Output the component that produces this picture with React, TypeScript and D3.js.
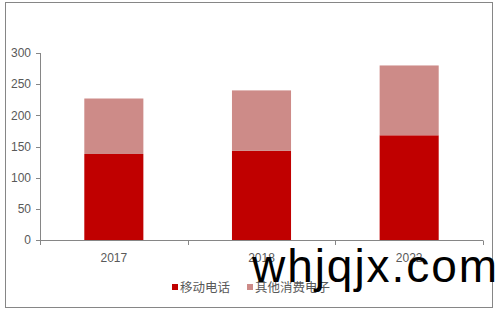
import React from "react";
import * as d3 from "d3";

const categories = ["2017", "2018", "2022"];
const mobilePhones = [138, 143, 168];
const otherElectronics = [89, 97, 112];
const yTicks = [0, 50, 100, 150, 200, 250, 300];
const seriesNames = ["移动电话", "其他消费电子"];
const seriesColors = ["#C00000", "#CD8B88"];

const W = 500;
const H = 313;

export default function App() {
  const x = d3
    .scaleBand<string>()
    .domain(categories)
    .range([40, 483])
    .paddingInner(0.6)
    .paddingOuter(0.3);
  const step = x.step();
  const y = d3.scaleLinear().domain([0, 300]).range([240, 53]);

  const rows = categories.map((c, i) => ({
    cat: c,
    mobile: mobilePhones[i],
    other: otherElectronics[i],
  }));
  const stacked = d3.stack<any>().keys(["mobile", "other"])(rows);

  const axisColor = "#868686";
  const textColor = "#595959";
  const axisFont = "Arial, 'Liberation Sans', sans-serif";

  return (
    <svg
      width={W}
      height={H}
      style={{ position: "absolute", left: 0, top: 0, background: "#fff" }}
    >
      <rect x={5.5} y={2.5} width={487} height={305} fill="#fff" stroke={axisColor} strokeWidth={1} />

      {/* stacked bars */}
      {stacked.map((layer, li) =>
        layer.map((d, i) => (
          <rect
            key={`${li}-${i}`}
            x={x(categories[i])}
            y={y(d[1])}
            width={x.bandwidth()}
            height={y(d[0]) - y(d[1])}
            fill={seriesColors[li]}
          />
        ))
      )}

      {/* y axis */}
      <line x1={40.5} x2={40.5} y1={y(300)} y2={y(0)} stroke={axisColor} />
      {yTicks.map((t) => (
        <g key={t}>
          <line x1={36} x2={40.5} y1={Math.round(y(t)) + 0.5} y2={Math.round(y(t)) + 0.5} stroke={axisColor} />
          <text
            x={31}
            y={y(t)}
            dy="0.35em"
            textAnchor="end"
            fontFamily={axisFont}
            fontSize={12}
            fill={textColor}
          >
            {t}
          </text>
        </g>
      ))}

      {/* x axis */}
      <line x1={40} x2={483} y1={240.5} y2={240.5} stroke={axisColor} />
      {d3.range(categories.length + 1).map((i) => (
        <line
          key={i}
          x1={Math.round(40 + i * step) + 0.5}
          x2={Math.round(40 + i * step) + 0.5}
          y1={240.5}
          y2={245}
          stroke={axisColor}
        />
      ))}
      {categories.map((c) => (
        <text
          key={c}
          x={(x(c) as number) + x.bandwidth() / 2}
          y={262}
          textAnchor="middle"
          fontFamily={axisFont}
          fontSize={12}
          fill={textColor}
        >
          {c}
        </text>
      ))}

      {/* legend */}
      {[
        { x: 172, label: seriesNames[0], color: seriesColors[0] },
        { x: 247, label: seriesNames[1], color: seriesColors[1] },
      ].map((l) => (
        <g key={l.label}>
          <rect x={l.x} y={284} width={6} height={6} fill={l.color} />
          <text
            x={l.x + 8}
            y={287}
            dy="0.38em"
            fontFamily="'Noto Sans CJK SC', sans-serif"
            fontSize={12.5}
            fill={textColor}
          >
            {l.label}
          </text>
        </g>
      ))}

      <text
        x={252}
        y={282}
        fontFamily="Arial, 'Liberation Sans', sans-serif"
        fontSize={46}
        fill="#000"
        textLength={245}
        lengthAdjust="spacing"
      >
        whjqjx.com
      </text>
    </svg>
  );
}
